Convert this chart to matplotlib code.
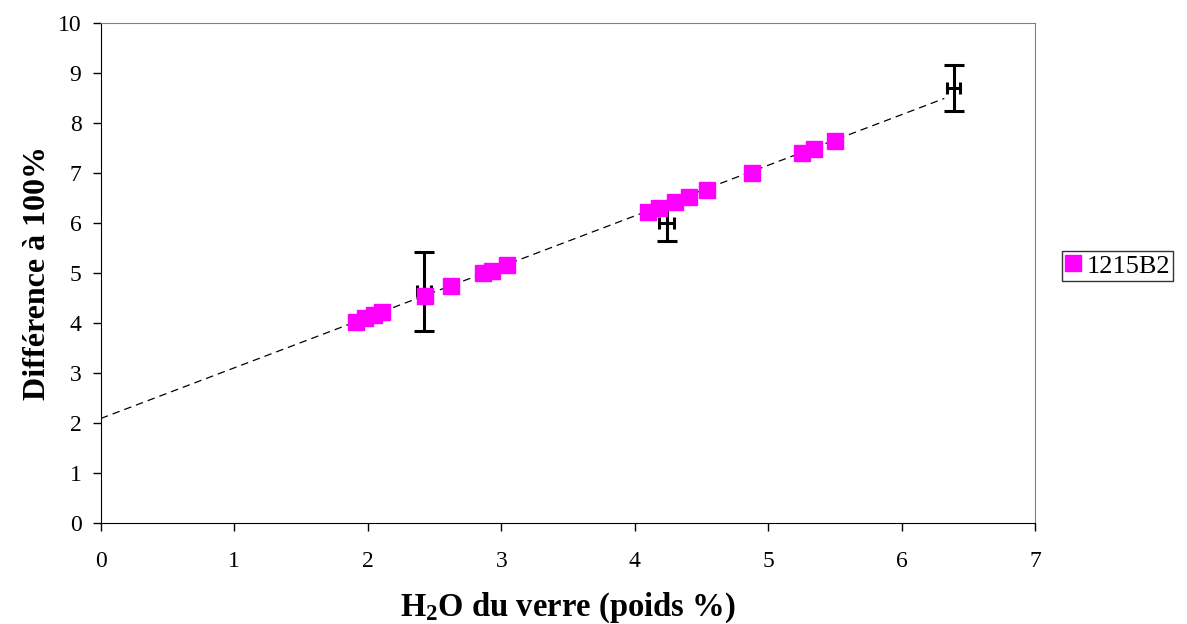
import matplotlib.pyplot as plt
import numpy as np

# Points de l'échantillon 1215B2
h2o = [1.91, 1.98, 2.05, 2.11, 2.43, 2.62, 2.86, 2.93, 3.04,
       4.10, 4.18, 4.30, 4.41, 4.54, 4.88, 5.25, 5.34, 5.50]
diff = [4.02, 4.10, 4.16, 4.22, 4.53, 4.73, 5.00, 5.04, 5.16,
        6.22, 6.30, 6.42, 6.52, 6.66, 7.01, 7.40, 7.48, 7.64]

# Standards avec barres d'erreur
std_h2o = [2.42, 4.24, 6.39]
std_diff = [4.63, 6.01, 8.70]
std_yerr = [0.79, 0.36, 0.46]
std_xerr = [0.05, 0.055, 0.05]

# Droite de tendance
fit_x = [0.0, 6.32]
slope = 1.013
intercept = 2.09

plt.rcParams['font.family'] = ['Liberation Serif', 'DejaVu Serif']
plt.rcParams['mathtext.fontset'] = 'custom'
plt.rcParams['mathtext.rm'] = 'Liberation Serif'
plt.rcParams['mathtext.bf'] = 'Liberation Serif:bold'

fig = plt.figure(figsize=(11.87, 6.24), dpi=100)
ax = fig.add_axes([0.085, 0.162, 0.787, 0.801])

fx = np.array(fit_x)
ax.plot(fx, slope * fx + intercept, color='black', lw=0.9, ls=(0, (6, 4)), zorder=2)

ax.errorbar(std_h2o, std_diff, yerr=std_yerr, fmt='none', ecolor='black',
            elinewidth=2.2, capsize=7, capthick=2.2, zorder=3)
ax.errorbar(std_h2o, std_diff, xerr=std_xerr, fmt='none', ecolor='black',
            elinewidth=2.2, capsize=4, capthick=2.2, zorder=3)

ax.plot(h2o, diff, ls='none', marker='s', ms=11.5, color='#ff00ff',
        markeredgecolor='#ff00ff', label='1215B2', zorder=4)

ax.set_xlim(0, 7)
ax.set_ylim(0, 10)
ax.set_xticks(range(0, 8))
ax.set_yticks(range(0, 11))
ax.tick_params(labelsize=17, direction='out', length=6, width=1)
ax.tick_params(axis='x', pad=14)
ax.tick_params(axis='y', pad=8)

for s in ['top', 'right']:
    ax.spines[s].set_color('#808080')

ax.set_xlabel(r'$\mathbf{H_2O}$ du verre (poids %)', fontsize=23.5, fontweight='bold')
ax.set_ylabel('Différence à 100%', fontsize=23, fontweight='bold')
ax.xaxis.set_label_coords(0.5, -0.136)
ax.yaxis.set_label_coords(-0.052, 0.5)

leg = fig.legend(loc='upper left', bbox_to_anchor=(1062 / 1187, 1 - 251 / 624),
                 fontsize=19, frameon=True, fancybox=False, edgecolor='black',
                 handlelength=0.6, handletextpad=0.2, borderpad=0.12,
                 borderaxespad=0, markerscale=0.95)
leg.get_frame().set_linewidth(1)

fig.savefig('out.png', dpi=100)
